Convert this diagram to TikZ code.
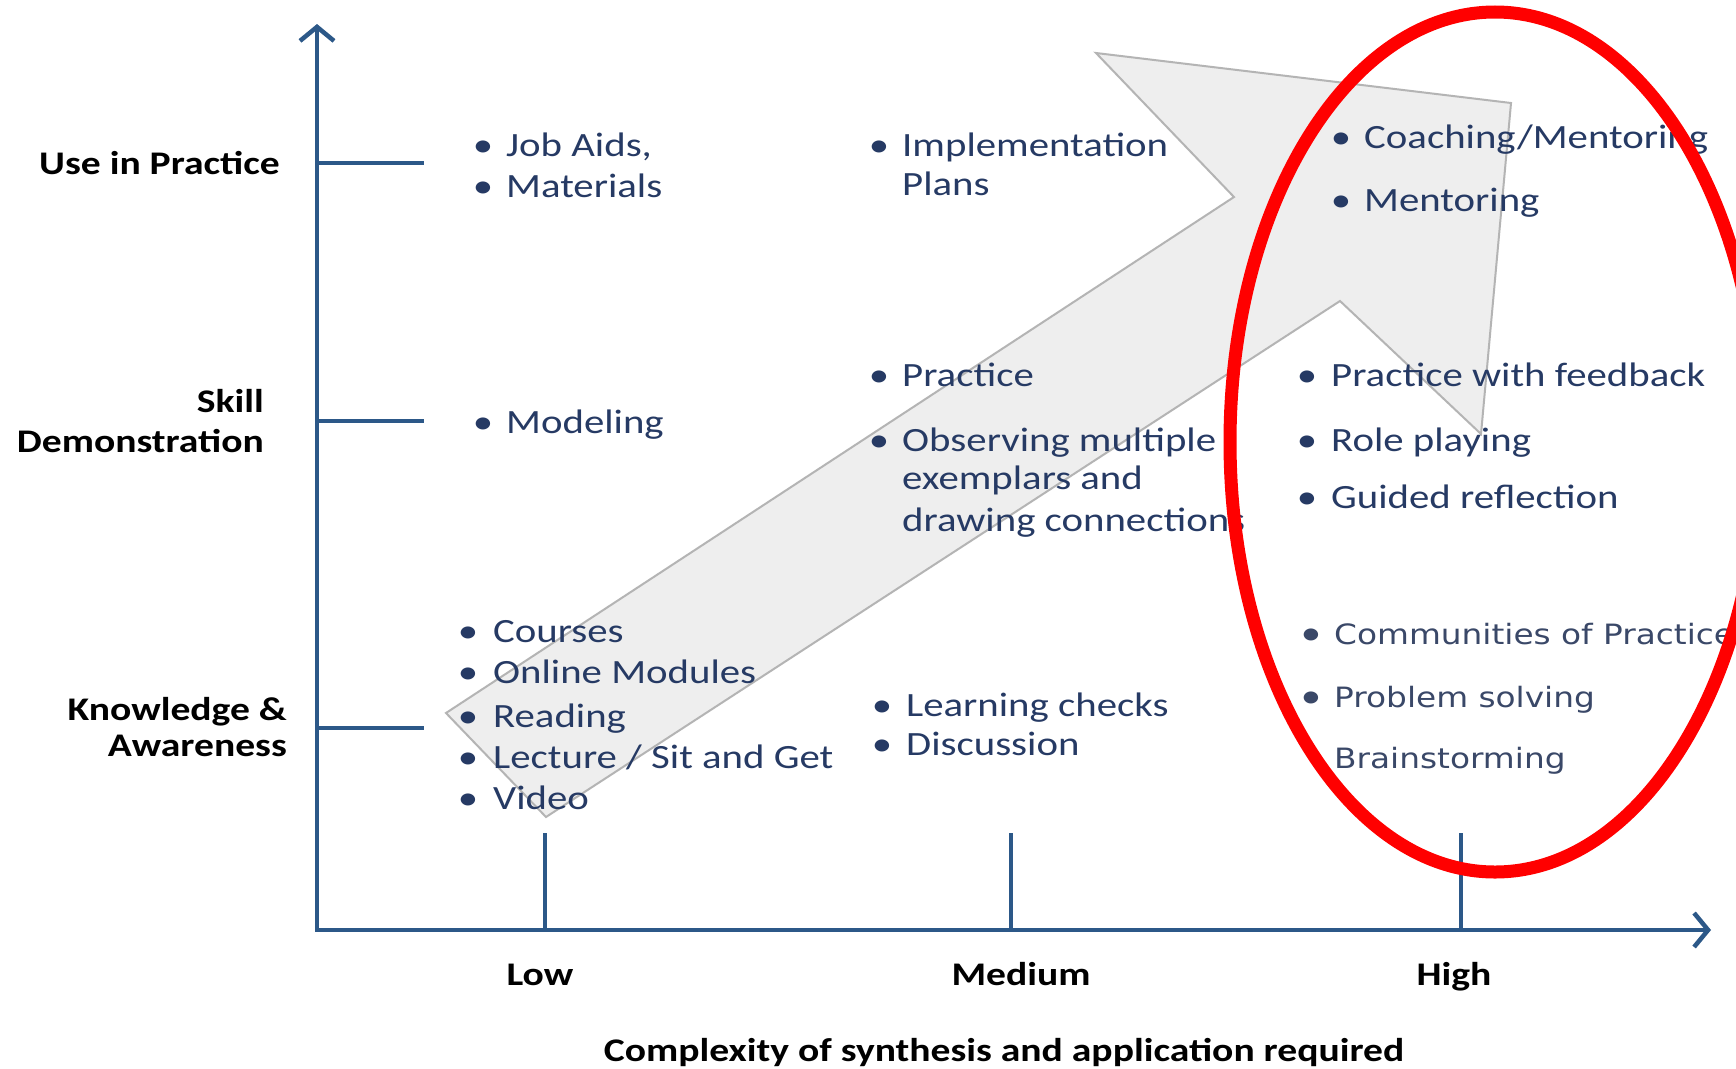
\documentclass[tikz,border=0pt]{standalone}
\usepackage{fontspec}
\setmainfont{Carlito}[FakeStretch=1.2]
\newfontfamily\vfont{DejaVu Sans}[FakeStretch=1.17]
\usetikzlibrary{arrows.meta}
\definecolor{axisblue}{RGB}{44,88,136}
\definecolor{itemblue}{RGB}{38,58,100}
\definecolor{itemgray}{RGB}{58,72,104}
\definecolor{arrowfill}{RGB}{238,238,238}
\definecolor{arrowline}{RGB}{180,180,180}
\begin{document}
\begin{tikzpicture}[x=1pt,y=-1pt,
  axis/.style={draw=axisblue, line width=4.5pt, line join=miter},
  tick/.style={draw=axisblue, line width=4pt},
  lab/.style={font=\fontsize{33}{40}\selectfont\bfseries, text=black, inner sep=0pt},
  itm/.style={font=\fontsize{34}{40}\selectfont, text=itemblue, inner sep=0pt, anchor=base west},
  bul/.style={font=\fontsize{34}{40}\selectfont, text=itemblue, inner sep=0pt, anchor=base},
  vitm/.style={font=\vfont\fontsize{28}{34}\selectfont, text=itemgray, inner sep=0pt, anchor=base west},
  vbul/.style={font=\fontsize{34}{40}\selectfont, text=itemgray, inner sep=0pt, anchor=base},
  bigarrow/.style={fill=arrowfill, draw=arrowline, line width=2pt, line join=miter},
  ring/.style={draw=red, line width=13pt}
]
\useasboundingbox[fill=white] (0,0) rectangle (1736,1068);

% big grey arrow
\coordinate (A) at (446,713);
\coordinate (B) at (1234,197);
\coordinate (C) at (1096,53);
\coordinate (D) at (1511,103);
\coordinate (E) at (1481,434);
\coordinate (F) at (1340,301);
\coordinate (G) at (546,817);
\draw[bigarrow] (A) -- (B) -- (C) -- (D) -- (E) -- (F) -- (G) -- cycle;

% axes
\coordinate (O) at (317,930);
\coordinate (Ytop) at (317,24);
\coordinate (Xend) at (1711,930);
\draw[axis, {Straight Barb[length=14pt,width=34pt]}-{Straight Barb[length=14pt,width=34pt]}] (Ytop) -- (O) -- (Xend);

% y ticks
\coordinate (y1a) at (317,163); \coordinate (y1b) at (424,163);
\coordinate (y2a) at (317,421); \coordinate (y2b) at (424,421);
\coordinate (y3a) at (317,728); \coordinate (y3b) at (424,728);
\draw[tick] (y1a) -- (y1b);
\draw[tick] (y2a) -- (y2b);
\draw[tick] (y3a) -- (y3b);
% x ticks
\coordinate (x1a) at (545,930); \coordinate (x1b) at (545,833);
\coordinate (x2a) at (1011,930); \coordinate (x2b) at (1011,833);
\coordinate (x3a) at (1461,930); \coordinate (x3b) at (1461,833);
\draw[tick] (x1a) -- (x1b);
\draw[tick] (x2a) -- (x2b);
\draw[tick] (x3a) -- (x3b);

% axis labels
\node[lab, anchor=base east] (lUse) at (280,174) {Use in Practice};
\node[lab, anchor=base east] (lSkill) at (264,412) {Skill};
\node[lab, anchor=base east] (lDemo) at (264,452) {Demonstration};
\node[lab, anchor=base east] (lKnow) at (287,720) {Knowledge \&};
\node[lab, anchor=base east] (lAware) at (287,756) {Awareness};
\node[lab, anchor=base] (lLow) at (540,985) {Low};
\node[lab, anchor=base] (lMed) at (1021,985) {Medium};
\node[lab, anchor=base] (lHigh) at (1454,985) {High};
\node[lab, anchor=base] (lComp) at (1004,1061) {Complexity of synthesis and application required};

% Low / Use
\node[bul] (b11) at (483,156) {•}; \node[itm] (t11) at (506,156) {Job Aids,};
\node[bul] (b12) at (483,197) {•}; \node[itm] (t12) at (506,197) {Materials};
% Low / Skill
\node[bul] (b21) at (483,433) {•}; \node[itm] (t21) at (506,433) {Modeling};
% Low / Knowledge
\node[bul] (b31) at (468,642) {•}; \node[itm] (t31) at (493,642) {Courses};
\node[bul] (b32) at (468,683) {•}; \node[itm] (t32) at (493,683) {Online Modules};
\node[bul] (b33) at (468,727) {•}; \node[itm] (t33) at (493,727) {Reading};
\node[bul] (b34) at (468,768) {•}; \node[itm] (t34) at (493,768) {Lecture / Sit and Get};
\node[bul] (b35) at (468,809) {•}; \node[itm] (t35) at (493,809) {Video};

% Medium / Use
\node[bul] (b41) at (879,156) {•}; \node[itm] (t41) at (902,156) {Implementation};
\node[itm] (t42) at (902,195) {Plans};
% Medium / Skill
\node[bul] (b51) at (879,386) {•}; \node[itm] (t51) at (902,386) {Practice};
\node[bul] (b52) at (879,451) {•}; \node[itm] (t52) at (902,451) {Observing multiple};
\node[itm] (t53) at (902,489) {exemplars and};
\node[itm] (t54) at (902,531) {drawing connections};
% Medium / Knowledge
\node[bul] (b61) at (882,716) {•}; \node[itm] (t61) at (906,716) {Learning checks};
\node[bul] (b62) at (882,755) {•}; \node[itm] (t62) at (906,755) {Discussion};

% High / Use
\node[bul] (b71) at (1341,148) {•}; \node[itm] (t71) at (1364,148) {Coaching/Mentoring};
\node[bul] (b72) at (1341,211) {•}; \node[itm] (t72) at (1364,211) {Mentoring};
% High / Skill
\node[bul] (b81) at (1307,386) {•}; \node[itm] (t81) at (1331,386) {Practice with feedback};
\node[bul] (b82) at (1307,451) {•}; \node[itm] (t82) at (1331,451) {Role playing};
\node[bul] (b83) at (1307,508) {•}; \node[itm] (t83) at (1331,508) {Guided reflection};
% High / Knowledge
\node[vbul] (b91) at (1311,644) {•}; \node[vitm] (t91) at (1334,644) {Communities of Practice};
\node[vbul] (b92) at (1311,707) {•}; \node[vitm] (t92) at (1334,707) {Problem solving};
\node[vitm] (t93) at (1334,768) {Brainstorming};

% red ellipse
\draw[ring] (1495,442) ellipse [x radius=265pt, y radius=430pt];
\end{tikzpicture}
\end{document}
